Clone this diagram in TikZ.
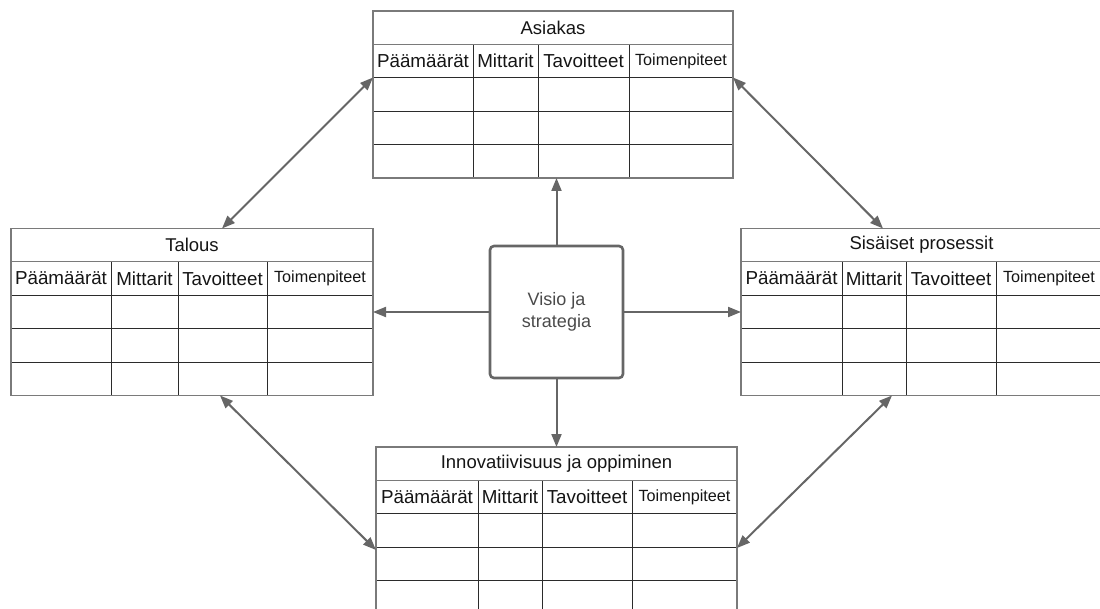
\documentclass[tikz,border=0pt]{standalone}
\usepackage{fontspec}
\setmainfont{Liberation Sans}
\usetikzlibrary{arrows.meta}

\definecolor{gridline}{HTML}{2B2B2B}
\definecolor{frameline}{HTML}{7A7A7A}
\definecolor{conncol}{HTML}{666666}
\definecolor{tabletext}{HTML}{151515}
\definecolor{visiontext}{HTML}{4A4A4A}

\tikzset{
  inner/.style={draw=gridline, line width=0.9pt},
  frame/.style={draw=frameline, line width=1.1pt},
  celltext/.style={text=tabletext, inner sep=0pt, font=\fontsize{18.8}{21}\selectfont},
  titletext/.style={celltext, font=\fontsize{18.5}{21}\selectfont},
  smallcell/.style={celltext, font=\fontsize{16.2}{18}\selectfont},
  visionbox/.style={draw=conncol, line width=2.6pt, rounded corners=4pt,
    minimum width=133pt, minimum height=132pt, align=center,
    text=visiontext, font=\fontsize{18}{22}\selectfont},
  conn/.style={draw=conncol, line width=2pt, -{Triangle[length=13pt,width=10pt]}},
  biconn/.style={draw=conncol, line width=2pt,
    {Triangle[length=13pt,width=10pt]}-{Triangle[length=13pt,width=10pt]}}
}

% #1 name, #2 left, #3 top, #4-#6 inner column edges, #7 right, #8 title
\newcommand\scorecard[8]{%
  \foreach \k in {1,...,4}{\draw[inner] (#2,#3+33.4*\k) -- (#7,#3+33.4*\k);}
  \foreach \c in {#4,#5,#6}{\draw[inner] (\c,#3+33.4) -- (\c,#3+167);}
  \draw[frame] (#2,#3) rectangle (#7,#3+167);
  \draw[frame] (#2,#3+33.4) -- (#7,#3+33.4);
  \node[titletext] (#1-title) at ({(#2+#7)/2},#3+16.7) {#8};
  \node[celltext] (#1-h1) at ({(#2+#4)/2},#3+50.1) {Päämäärät};
  \node[celltext] (#1-h2) at ({(#4+#5)/2},#3+50.1) {Mittarit};
  \node[celltext] (#1-h3) at ({(#5+#6)/2},#3+50.1) {Tavoitteet};
  \node[smallcell] (#1-h4) at ({(#6+#7)/2},#3+50.1) {Toimenpiteet};
}

\begin{document}
\begin{tikzpicture}[x=1pt,y=-1pt]
  \useasboundingbox (0,0) rectangle (1100,609);
  \clip (0,0) rectangle (1100,609);

  % the four perspectives
  \scorecard{asiakas}{373}{11}{473}{538}{629}{733}{Asiakas}
  \scorecard{talous}{11}{228.5}{111}{178}{267}{373}{Talous}
  \scorecard{sis}{741}{228.5}{842}{906}{996}{1102}{Sisäiset prosessit}
  \scorecard{innov}{376}{447}{478}{542}{632}{737}{Innovatiivisuus ja oppiminen}

  % centre
  \node[visionbox] (vision) at (556.5,312) {Visio ja\\strategia};

  % connector end points on the table borders
  \coordinate (asiakas-s) at (556.5,178);
  \coordinate (innov-n) at (556.5,447);
  \coordinate (talous-e) at (373,312);
  \coordinate (sis-w) at (741,312);
  \coordinate (asiakas-w) at (373,77.5);
  \coordinate (asiakas-e) at (733,77.5);
  \coordinate (talous-n) at (222,228.5);
  \coordinate (sis-n) at (883,228.5);
  \coordinate (talous-s) at (220,395.5);
  \coordinate (sis-s) at (892,395.5);
  \coordinate (innov-w) at (376,550);
  \coordinate (innov-e) at (737,548);

  \draw[conn] (vision.north) -- (asiakas-s);
  \draw[conn] (vision.south) -- (innov-n);
  \draw[conn] (vision.west) -- (talous-e);
  \draw[conn] (vision.east) -- (sis-w);

  \draw[biconn] (asiakas-w) -- (talous-n);
  \draw[biconn] (asiakas-e) -- (sis-n);
  \draw[biconn] (talous-s) -- (innov-w);
  \draw[biconn] (sis-s) -- (innov-e);
\end{tikzpicture}
\end{document}
